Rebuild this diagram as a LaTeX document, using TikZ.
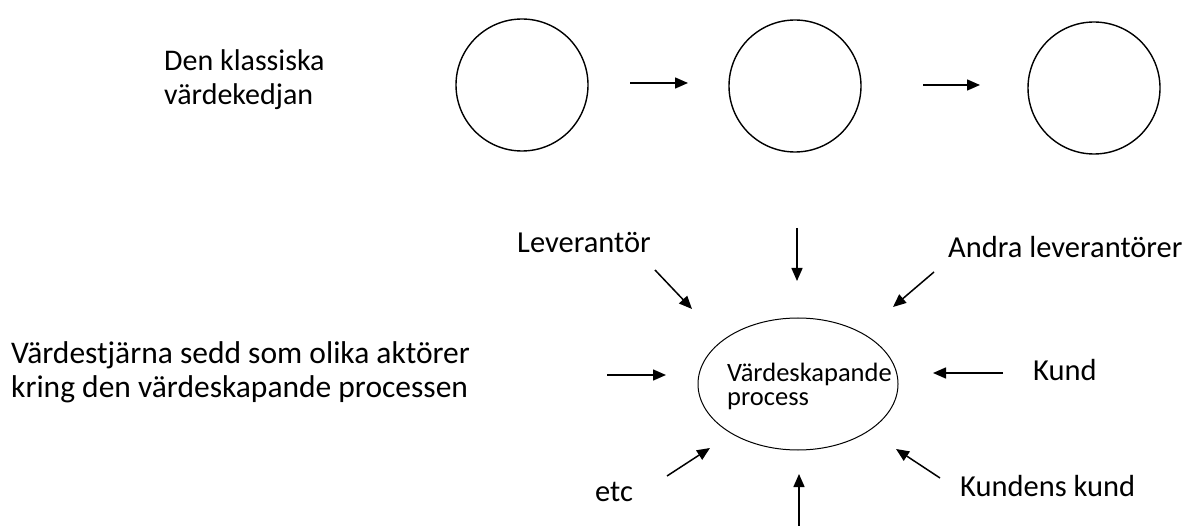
\documentclass[tikz,border=0pt]{standalone}
\usepackage{fontspec}
\setmainfont{Carlito}
\usetikzlibrary{arrows.meta,shapes.geometric}
\begin{document}
\begin{tikzpicture}[x=1pt,y=-1pt,
  lbl/.style={inner sep=0pt,font=\fontsize{30.5}{34}\selectfont},
  ring/.style={draw,line width=1.4pt,circle,minimum size=132pt,inner sep=0pt},
  arr/.style={line width=1.5pt,-{Triangle[length=13pt,width=11pt]}}]
\useasboundingbox (0,0) rectangle (1186,526);
% top row
\node[ring] (c1) at (522,85) {};
\node[ring] (c2) at (795,86) {};
\node[ring] (c3) at (1094,88) {};
\coordinate (a1s) at (630,83); \coordinate (a1e) at (688,83);
\coordinate (a2s) at (923,85); \coordinate (a2e) at (980,85);
\draw[arr] (a1s) -- (a1e);
\draw[arr] (a2s) -- (a2e);
\node[lbl,anchor=west,align=left,font=\fontsize{30}{34}\selectfont] (t1) at (164,80) {Den klassiska\\värdekedjan};
% lower part
\node[draw,line width=1pt,ellipse,minimum width=200pt,minimum height=132pt,inner sep=0pt] (e) at (798,384) {};
\node[inner sep=0pt,anchor=west,align=left,font=\fontsize{26.5}{24}\selectfont] (et) at (727,386) {Värdeskapande\\process};
\node[lbl,anchor=west,align=left,font=\fontsize{31.5}{34}\selectfont] (t2) at (11,372) {Värdestjärna sedd som olika aktörer\\kring den värdeskapande processen};
\node[lbl,anchor=west] (lev) at (517,243) {Leverantör};
\node[lbl,anchor=west] (andra) at (948,247) {Andra leverantörer};
\node[lbl,anchor=west] (kund) at (1033,370) {Kund};
\node[lbl,anchor=west] (kk) at (960,486) {Kundens kund};
\node[lbl,anchor=west] (etc) at (595,492) {etc};
% arrows toward the process
\coordinate (p1s) at (797,228); \coordinate (p1e) at (797,281);
\coordinate (p2s) at (655,270); \coordinate (p2e) at (692,309);
\coordinate (p3s) at (607,375); \coordinate (p3e) at (666,375);
\coordinate (p4s) at (667,476); \coordinate (p4e) at (710,448);
\coordinate (p5s) at (799,526); \coordinate (p5e) at (799,474);
\coordinate (p6s) at (934,272); \coordinate (p6e) at (893,307);
\coordinate (p7s) at (1003,373); \coordinate (p7e) at (933,373);
\coordinate (p8s) at (940,478); \coordinate (p8e) at (896,449);
\foreach \i in {1,...,8} {\draw[arr] (p\i s) -- (p\i e);}
\end{tikzpicture}
\end{document}
